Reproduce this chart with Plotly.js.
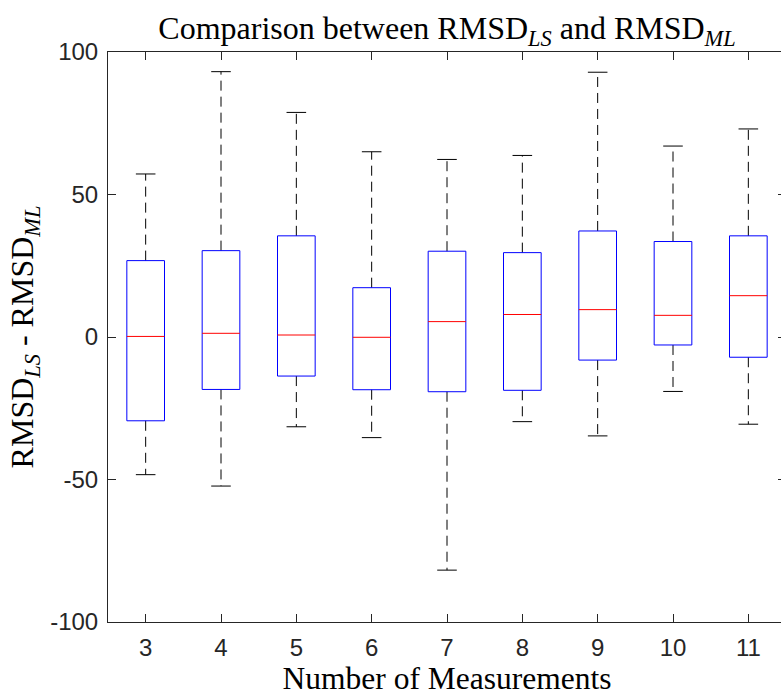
<!DOCTYPE html>
<html>
<head>
<meta charset="utf-8">
<script src="https://cdn.plot.ly/plotly-3.0.1.min.js"></script>
<style>
  html, body { margin: 0; padding: 0; overflow: hidden; background: #fff; }
  #chart { width: 786px; height: 700px; }
</style>
</head>
<body>
<div id="chart"></div>
<script>
// Box-plot statistics per number of measurements
const measurements = [3, 4, 5, 6, 7, 8, 9, 10, 11];
const upperWhisker = [57.2, 93.1, 78.8, 65.0, 62.3, 63.7, 92.9, 67.0, 73.0];
const q3Values     = [26.8, 30.3, 35.5, 17.3, 30.1, 29.6, 37.2, 33.5, 35.5];
const medianValues = [0.2, 1.3, 0.7, -0.1, 5.4, 7.9, 9.6, 7.6, 14.5];
const q1Values     = [-29.4, -18.4, -13.7, -18.5, -19.2, -18.7, -8.1, -2.8, -7.1];
const lowerWhisker = [-48.3, -52.3, -31.5, -35.3, -81.8, -29.7, -34.7, -19.1, -30.6];
const yTickValues  = [-100, -50, 0, 50, 100];

const boxHalf = 0.25;   // half box width in category units
const capHalf = 0.13;   // half whisker-cap width

const boxX = [], boxY = [];
const medX = [], medY = [];
const whiskX = [], whiskY = [];
const capX = [], capY = [];

measurements.forEach((m, i) => {
  const l = m - boxHalf, r = m + boxHalf;
  boxX.push(l, r, r, l, l, null);
  boxY.push(q1Values[i], q1Values[i], q3Values[i], q3Values[i], q1Values[i], null);

  medX.push(l, r, null);
  medY.push(medianValues[i], medianValues[i], null);

  whiskX.push(m, m, null, m, m, null);
  whiskY.push(q3Values[i], upperWhisker[i], null, q1Values[i], lowerWhisker[i], null);

  capX.push(m - capHalf, m + capHalf, null, m - capHalf, m + capHalf, null);
  capY.push(upperWhisker[i], upperWhisker[i], null, lowerWhisker[i], lowerWhisker[i], null);
});

const traces = [
  { x: whiskX, y: whiskY, mode: 'lines', type: 'scatter', hoverinfo: 'skip',
    line: { color: '#000000', width: 1, dash: '10px,6px' } },
  { x: capX, y: capY, mode: 'lines', type: 'scatter', hoverinfo: 'skip',
    line: { color: '#000000', width: 1 } },
  { x: boxX, y: boxY, mode: 'lines', type: 'scatter', hoverinfo: 'skip',
    line: { color: '#0000ff', width: 1 } },
  { x: medX, y: medY, mode: 'lines', type: 'scatter', hoverinfo: 'skip',
    line: { color: '#ff0000', width: 1 } }
];

const axisColor = '#262626';
const tickFont = { family: '"Liberation Sans", Arial, sans-serif', size: 24, color: axisColor };
const serif = '"Liberation Serif", "Times New Roman", serif';

const layout = {
  width: 786,
  height: 700,
  margin: { l: 108, r: 0, t: 52, b: 78, pad: 0 },
  paper_bgcolor: '#ffffff',
  plot_bgcolor: '#ffffff',
  showlegend: false,
  title: {
    text: 'Comparison between RMSD<sub><i>LS</i></sub> and RMSD<sub><i>ML</i></sub>',
    font: { family: serif, size: 32, color: '#000000' },
    x: 447 / 786, xref: 'container', xanchor: 'center',
    y: 1 - 28 / 700, yref: 'container', yanchor: 'middle'
  },
  xaxis: {
    range: [2.5, 11.5],
    tickvals: measurements,
    ticktext: measurements.map(String),
    ticks: 'inside', ticklen: 8, tickwidth: 1, tickcolor: axisColor,
    showline: true, linecolor: axisColor, linewidth: 1, mirror: 'ticks',
    showgrid: false, zeroline: false,
    tickfont: tickFont,
    ticklabelstandoff: 4,
    title: { text: 'Number of Measurements', font: { family: serif, size: 31.5, color: '#000000' }, standoff: 6 }
  },
  yaxis: {
    range: [-100, 100],
    tickvals: yTickValues,
    ticktext: yTickValues.map(String),
    ticks: 'inside', ticklen: 8, tickwidth: 1, tickcolor: axisColor,
    showline: true, linecolor: axisColor, linewidth: 1, mirror: 'ticks',
    showgrid: false, zeroline: false,
    tickfont: tickFont,
    ticklabelstandoff: 4,
    title: { text: 'RMSD<sub><i>LS</i></sub> - RMSD<sub><i>ML</i></sub>', font: { family: serif, size: 32, color: '#000000' }, standoff: 6 }
  }
};

Plotly.newPlot('chart', traces, layout, { staticPlot: true, displayModeBar: false });
</script>
</body>
</html>
